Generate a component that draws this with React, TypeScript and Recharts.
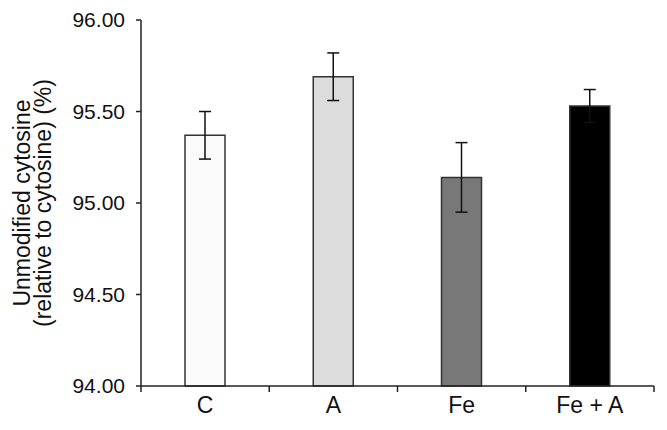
import React from 'react';
import { BarChart, Bar, XAxis, YAxis, Cell, ErrorBar } from 'recharts';

const categories = ['C', 'A', 'Fe', 'Fe + A'];
const means = [95.37, 95.69, 95.14, 95.53];
const errors = [0.13, 0.13, 0.19, 0.09];
const barColors = ['#fbfbfb', '#dcdcdc', '#787878', '#000000'];
const yTicks = [94, 94.5, 95, 95.5, 96];

const FONT = '"Liberation Sans", Arial, Helvetica, sans-serif';
const AXIS = '#222';
const X_TICK_MARGIN = 11;

const data = categories.map((name, i) => ({ name, value: means[i], err: errors[i] }));

// category ticks sit between the bars, so draw them by hand next to the label
const XTick = (props: any) => {
  const { x, y, payload, index } = props;
  const half = payload && payload.offset ? payload.offset : 513 / categories.length / 2;
  const top = y - X_TICK_MARGIN;
  return (
    <g>
      <line x1={x - half} y1={top} x2={x - half} y2={top + 6} stroke={AXIS} strokeWidth={1.5} />
      {index === categories.length - 1 && (
        <line x1={x + half} y1={top} x2={x + half} y2={top + 6} stroke={AXIS} strokeWidth={1.5} />
      )}
      <text x={x} y={y} dy="0.71em" textAnchor="middle" fill="#111" fontSize={23} fontFamily={FONT}>
        {payload.value}
      </text>
    </g>
  );
};

const YLabel = (props: any) => {
  const vb = props.viewBox || { x: 0, y: 20, width: 141, height: 366 };
  const cy = vb.y + vb.height / 2;
  return (
    <g fill="#111" fontSize={23} fontFamily={FONT}>
      <text x={30} y={cy} textAnchor="middle" transform={`rotate(-90, 30, ${cy})`}>
        Unmodified cytosine
      </text>
      <text x={51} y={cy} textAnchor="middle" transform={`rotate(-90, 51, ${cy})`}>
        (relative to cytosine) (%)
      </text>
    </g>
  );
};

export default function App() {
  return (
    <div style={{ position: 'absolute', left: 0, top: 0, width: 667, height: 430, background: '#fff' }}>
      <BarChart
        width={667}
        height={430}
        data={data}
        margin={{ top: 20, right: 13, bottom: 0, left: 0 }}
      >
        <XAxis
          dataKey="name"
          height={44}
          stroke={AXIS}
          strokeWidth={1.5}
          tickLine={false}
          tickSize={0}
          tickMargin={X_TICK_MARGIN}
          tick={<XTick />}
          interval={0}
        />
        <YAxis
          type="number"
          domain={[94, 96]}
          ticks={yTicks}
          width={141}
          stroke={AXIS}
          strokeWidth={1.5}
          tickSize={5}
          tickMargin={11}
          tickFormatter={(v: number) => v.toFixed(2)}
          tick={{ fill: '#111', fontSize: 21, fontFamily: FONT }}
          label={{ content: <YLabel /> }}
        />
        <Bar dataKey="value" barSize={40} stroke="#333" strokeWidth={1.5} isAnimationActive={false}>
          {data.map((d, i) => (
            <Cell key={d.name} fill={barColors[i]} />
          ))}
          <ErrorBar dataKey="err" direction="y" width={6} stroke="#111" strokeWidth={1.5} isAnimationActive={false} />
        </Bar>
      </BarChart>
    </div>
  );
}
